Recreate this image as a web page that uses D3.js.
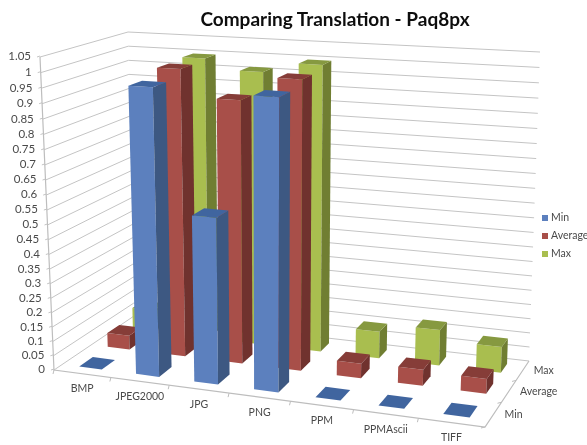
<!DOCTYPE html>
<html>
<head>
<meta charset="utf-8">
<script src="https://cdn.jsdelivr.net/npm/d3@7"></script>
<style>
	html, body { margin: 0; padding: 0; background: #fff; }
	svg { display: block; font-family: Lato, sans-serif; }
</style>
</head>
<body>
<script>
var categories = ['BMP', 'JPEG2000', 'JPG', 'PNG', 'PPM', 'PPMAscii', 'TIFF'];
var seriesNames = ['Min', 'Average', 'Max'];
var minValues = [0, 0.965, 0.56, 0.96, 0, 0, 0];
var avgValues = [0.05, 0.99, 0.9, 0.98, 0.05, 0.055, 0.05];
var maxValues = [0.08, 0.995, 0.96, 0.995, 0.095, 0.125, 0.09];
var yTicks = d3.range(0, 22).map(function(i) { return i * 0.05; });

var frontColors = ['#5b80be', '#a84f48', '#a9be50'];
var sideColors = ['#3e5882', '#6f302d', '#6f7e33'];
var topColors = ['#41659f', '#863d39', '#86993f'];

var svg = d3.select('body').append('svg')
	.attr('width', 587)
	.attr('height', 445);

var defs = svg.append('defs');
defs.append('filter').attr('id', 'soft')
	.append('feGaussianBlur').attr('stdDeviation', 0.35);

var chart = svg.append('g').attr('filter', 'url(#soft)');

// corners of the 3d box as they land on the page
var box = {
	bf: [[54, 370], [485, 427]],
	bb: [[134, 316], [529, 361]],
	tf: [[40, 57], [500, 85]],
	tb: [[128, 32], [540, 52]]
};

var xBand = d3.scaleBand().domain(categories).range([0, 1]).paddingInner(0.6).paddingOuter(0.3);
var xOuter = d3.scaleBand().domain(categories).range([0, 1]);
var zBand = d3.scaleBand().domain(seriesNames).range([0, 1]).paddingInner(0.54).paddingOuter(0.27);
var zOuter = d3.scaleBand().domain(seriesNames).range([0, 1]);
var yScale = d3.scaleLinear().domain([0, 1.05]).range([0, 1]);

// perspective bend so spacing is not even along an edge
function bend(t, k) {
	return (1 + k) * t / (1 + k * t);
}

function project(u, v, w) {
	var uu = bend(u, -0.088);
	var vv = bend(yScale(v), -0.05);
	var ww = bend(w, 0.2);
	function edge(p) {
		return [p[0][0] + (p[1][0] - p[0][0]) * uu, p[0][1] + (p[1][1] - p[0][1]) * uu];
	}
	var bf = edge(box.bf), bb = edge(box.bb), tf = edge(box.tf), tb = edge(box.tb);
	var b = [bf[0] + (bb[0] - bf[0]) * ww, bf[1] + (bb[1] - bf[1]) * ww];
	var t = [tf[0] + (tb[0] - tf[0]) * ww, tf[1] + (tb[1] - tf[1]) * ww];
	return [b[0] + (t[0] - b[0]) * vv, b[1] + (t[1] - b[1]) * vv];
}

var line = d3.line();
var gridColor = '#c4c4c4';

// gridlines, left wall then back wall
yTicks.forEach(function(v) {
	chart.append('path')
		.attr('d', line([project(0, v, 0), project(0, v, 1), project(1, v, 1)]))
		.attr('fill', 'none')
		.attr('stroke', gridColor)
		.attr('stroke-width', 1);
	var p = project(0, v, 0);
	chart.append('line')
		.attr('x1', p[0] - 3).attr('x2', p[0])
		.attr('y1', p[1]).attr('y2', p[1] - 1)
		.attr('stroke', gridColor);
	chart.append('text')
		.attr('x', p[0] - 9)
		.attr('y', p[1] + 0.5)
		.attr('text-anchor', 'end')
		.attr('dominant-baseline', 'middle')
		.attr('font-size', 11.5)
		.attr('fill', '#4a4a4a')
		.text(d3.format('~g')(+v.toFixed(2)));
});

// axis edges
chart.append('path')
	.attr('d', line([project(0, 1.05, 0), project(0, 0, 0), project(1, 0, 0), project(1, 0, 1)]))
	.attr('fill', 'none')
	.attr('stroke', '#bdbdbd')
	.attr('stroke-width', 1.2);

// ticks on the floor edges
categories.forEach(function(c, i) {
	var p = project(xOuter(c), 0, 0);
	chart.append('line')
		.attr('x1', p[0]).attr('y1', p[1])
		.attr('x2', p[0] - 1).attr('y2', p[1] + 4)
		.attr('stroke', '#bdbdbd');
	var m = project(xOuter(c) + xOuter.bandwidth() / 2, 0, 0);
	chart.append('text')
		.attr('x', m[0])
		.attr('y', m[1] + 16)
		.attr('text-anchor', 'middle')
		.attr('dominant-baseline', 'middle')
		.attr('font-size', 10.5)
		.attr('fill', '#4a4a4a')
		.text(c);
});

seriesNames.forEach(function(s) {
	var p = project(1, 0, zOuter(s));
	chart.append('line')
		.attr('x1', p[0]).attr('y1', p[1])
		.attr('x2', p[0] - 4).attr('y2', p[1] + 1)
		.attr('stroke', '#bdbdbd');
	var m = project(1, 0, zOuter(s) + zOuter.bandwidth() / 2);
	chart.append('text')
		.attr('x', m[0] + 11)
		.attr('y', m[1] + 1)
		.attr('dominant-baseline', 'middle')
		.attr('font-size', 10.5)
		.attr('fill', '#4a4a4a')
		.text(s);
});

// bars, back row first
var allValues = [minValues, avgValues, maxValues];
[2, 1, 0].forEach(function(si) {
	categories.forEach(function(c, ci) {
		var val = allValues[si][ci];
		var x0 = xBand(c), x1 = x0 + xBand.bandwidth();
		var z0 = zBand(seriesNames[si]), z1 = z0 + zBand.bandwidth();
		var g = chart.append('g');
		if (val > 0) {
			g.append('path')
				.attr('d', line([project(x0, 0, z0), project(x1, 0, z0), project(x1, val, z0), project(x0, val, z0)]) + 'Z')
				.attr('fill', frontColors[si]);
			g.append('path')
				.attr('d', line([project(x1, 0, z0), project(x1, 0, z1), project(x1, val, z1), project(x1, val, z0)]) + 'Z')
				.attr('fill', sideColors[si]);
		}
		g.append('path')
			.attr('d', line([project(x0, val, z0), project(x1, val, z0), project(x1, val, z1), project(x0, val, z1)]) + 'Z')
			.attr('fill', topColors[si]);
	});
});

// title
chart.append('text')
	.attr('x', 335)
	.attr('y', 26)
	.attr('text-anchor', 'middle')
	.attr('font-size', 19)
	.attr('font-weight', 'bold')
	.attr('fill', '#111')
	.text('Comparing Translation - Paq8px');

// legend
var legendY = d3.scalePoint().domain(seriesNames).range([218, 254]);
seriesNames.forEach(function(s, i) {
	chart.append('rect')
		.attr('x', 542)
		.attr('y', legendY(s) - 3)
		.attr('width', 6)
		.attr('height', 6)
		.attr('fill', frontColors[i]);
	chart.append('text')
		.attr('x', 551)
		.attr('y', legendY(s))
		.attr('dominant-baseline', 'middle')
		.attr('font-size', 10.5)
		.attr('fill', '#4a4a4a')
		.text(s);
});
</script>
</body>
</html>
